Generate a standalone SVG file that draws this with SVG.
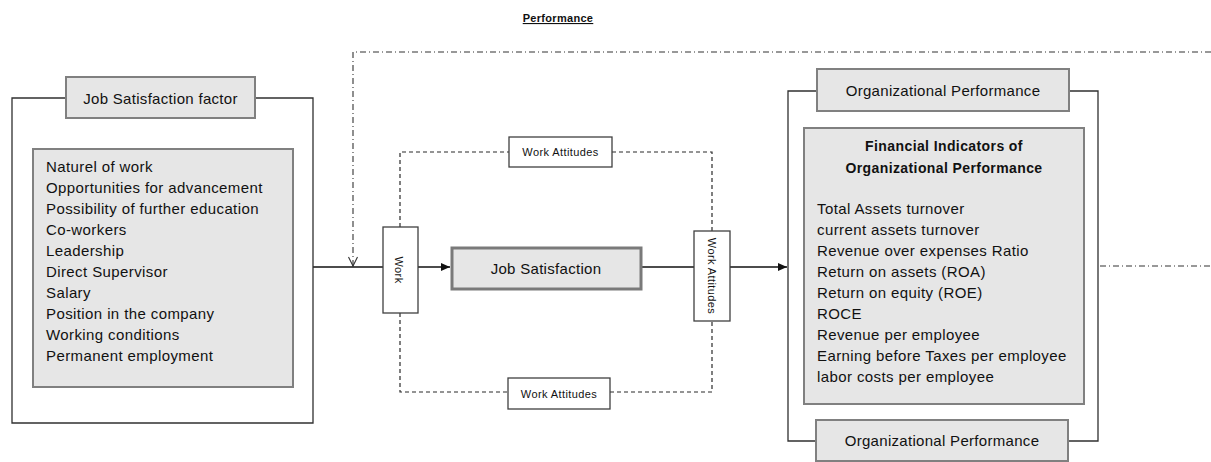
<svg xmlns="http://www.w3.org/2000/svg" width="1211" height="462" viewBox="0 0 1211 462">
<style>
text{font-family:"Liberation Sans",Arial,sans-serif;fill:#111}
.gbox{fill:#e6e6e6;stroke:#808080;stroke-width:2}
.wbox{fill:#fff;stroke:#404040;stroke-width:1.3}
.frame{fill:none;stroke:#303030;stroke-width:1.3}
.dash{fill:none;stroke:#2a2a2a;stroke-width:1.2;stroke-dasharray:4 3}
.dashdot{fill:none;stroke:#333;stroke-width:1.1;stroke-dasharray:6 3 1 3}
.line{fill:none;stroke:#111;stroke-width:1.3}
.lst{font-size:15px;letter-spacing:0.4px}
.lbl{font-size:15px;letter-spacing:0.3px;text-anchor:middle;dominant-baseline:central}
.sm{font-size:11px;letter-spacing:0.4px;text-anchor:middle;dominant-baseline:central}
</style>
<defs>
<marker id="fill" markerWidth="10" markerHeight="10" refX="9" refY="5" orient="auto" markerUnits="userSpaceOnUse">
<path d="M0,1 L9,5 L0,9 Z" fill="#111"/>
</marker>
<marker id="open" markerWidth="12" markerHeight="12" refX="10" refY="6" orient="auto" markerUnits="userSpaceOnUse">
<path d="M1,1.5 L10,6 L1,10.5" fill="none" stroke="#333" stroke-width="1.1"/>
</marker>
</defs>

<text x="558" y="22" font-size="11" font-weight="bold" letter-spacing="0.3" text-anchor="middle" text-decoration="underline">Performance</text>

<g id="connectors">
<path class="dashdot" d="M1211,52 H353 V266" marker-end="url(#open)"/>
<path class="dashdot" d="M1100,266 H1211"/>
<path class="line" d="M313,267 H450" marker-end="url(#fill)"/>
<path class="line" d="M641,267 H787" marker-end="url(#fill)"/>
<path class="dash" d="M400,227 V152 H509 M612,152 H712 V231"/>
<path class="dash" d="M400,313 V392 H508 M610,392 H712 V321"/>
</g>

<g id="job-satisfaction-factor">
<path class="frame" d="M66,98 H12 V423 H313 V98 H255"/>
<rect class="gbox" x="66" y="77" width="189" height="41"/>
<text class="lbl" x="160.5" y="98">Job Satisfaction factor</text>
<rect class="gbox" x="33" y="149" width="260" height="238"/>
<text class="lst" x="46" y="172">Naturel of work</text>
<text class="lst" x="46" y="193">Opportunities  for advancement</text>
<text class="lst" x="46" y="214">Possibility of further education</text>
<text class="lst" x="46" y="235">Co-workers</text>
<text class="lst" x="46" y="256">Leadership</text>
<text class="lst" x="46" y="277">Direct Supervisor</text>
<text class="lst" x="46" y="298">Salary</text>
<text class="lst" x="46" y="319">Position in the company</text>
<text class="lst" x="46" y="340">Working conditions</text>
<text class="lst" x="46" y="361">Permanent  employment</text>
</g>

<g id="work">
<rect class="wbox" x="383" y="227" width="35" height="86"/>
<text class="sm" transform="translate(399,270) rotate(90)">Work</text>
</g>

<g id="job-satisfaction">
<rect x="452" y="248" width="189" height="41" fill="#e6e6e6" stroke="#7a7a7a" stroke-width="3"/>
<text class="lbl" x="546" y="268.5">Job Satisfaction</text>
</g>

<g id="work-attitudes-top">
<rect class="wbox" x="509" y="137" width="103" height="30"/>
<text class="sm" x="560.5" y="152">Work Attitudes</text>
</g>

<g id="work-attitudes-bottom">
<rect class="wbox" x="508" y="378" width="102" height="31"/>
<text class="sm" x="559" y="393.5">Work Attitudes</text>
</g>

<g id="work-attitudes-right">
<rect class="wbox" x="694" y="231" width="36" height="90"/>
<text class="sm" transform="translate(712,276) rotate(90)">Work Attitudes</text>
</g>

<g id="organizational-performance">
<path class="frame" d="M817,91 H788 V441 H816 M1068,441 H1098 V91 H1069"/>
<rect class="gbox" x="817" y="69" width="252" height="42"/>
<text class="lbl" x="943" y="90">Organizational  Performance</text>
<rect class="gbox" x="804" y="128" width="280" height="276"/>
<text x="944" y="151" font-size="14" font-weight="bold" letter-spacing="0.4" text-anchor="middle">Financial Indicators of</text>
<text x="944" y="173" font-size="14" font-weight="bold" letter-spacing="0.4" text-anchor="middle">Organizational  Performance</text>
<text class="lst" x="817" y="214">Total Assets turnover</text>
<text class="lst" x="817" y="235">current assets turnover</text>
<text class="lst" x="817" y="256">Revenue over expenses Ratio</text>
<text class="lst" x="817" y="277">Return on assets (ROA)</text>
<text class="lst" x="817" y="298">Return on equity (ROE)</text>
<text class="lst" x="817" y="319">ROCE</text>
<text class="lst" x="817" y="340">Revenue per employee</text>
<text class="lst" x="817" y="361">Earning before Taxes per employee</text>
<text class="lst" x="817" y="382">labor costs per employee</text>
<rect class="gbox" x="816" y="420" width="252" height="41"/>
<text class="lbl" x="942" y="440.5">Organizational  Performance</text>
</g>
</svg>
